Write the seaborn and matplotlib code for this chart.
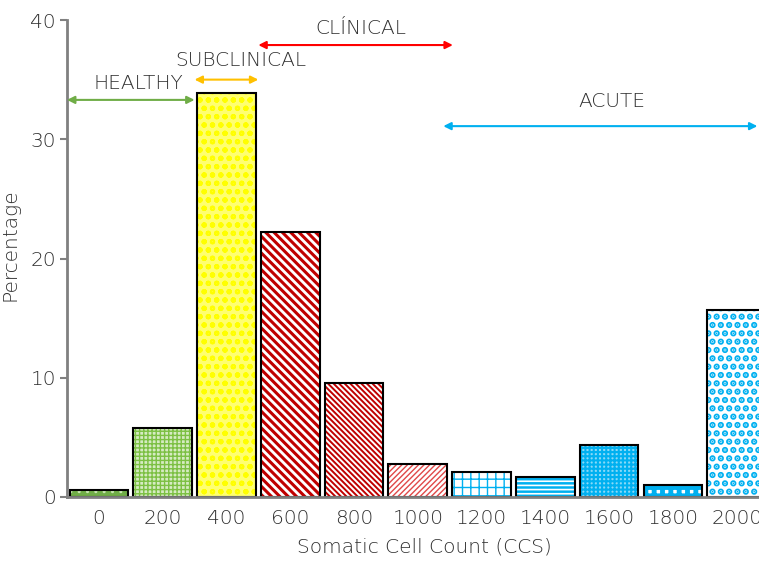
import matplotlib
matplotlib.use("Agg")
import matplotlib.pyplot as plt
import seaborn as sns

# Somatic cell count classes and share of samples (%)
scc = [0, 200, 400, 600, 800, 1000, 1200, 1400, 1600, 1800, 2000]
pct = [0.6, 5.8, 33.9, 22.2, 9.6, 2.8, 2.1, 1.7, 4.4, 1.0, 15.7]

# per-bar fill, hatch colour, hatch pattern, hatch width
faces = ["#70AD47", "#d6ebc2", "#ffff70", "white", "white", "white",
         "white", "#00B0F0", "#8ad9f7", "white", "white"]
hatch_cols = ["#c8e6b0", "#7cc043", "#ffff00", "#C00000", "#C00000", "#e04848",
              "#00B0F0", "white", "#00B0F0", "#00B0F0", "#00B0F0"]
hatches = ["..", "++++", "oo", "\\\\\\\\", "\\\\\\\\\\\\", "//////",
           "++", "----", "++++", "++", ".."]
hatch_lw = [1.0, 1.0, 1.5, 2.2, 1.4, 1.0, 1.0, 1.2, 1.5, 3.5, 3.2]

# stage ranges drawn as double arrows
stages = ["HEALTHY", "SUBCLINICAL", "CLÍNICAL", "ACUTE"]
stage_start = [-100, 300, 500, 1080]
stage_end = [300, 500, 1110, 2065]
stage_y = [33.3, 35.0, 37.9, 31.1]
stage_text_x = [125, 444, 820, 1610]
stage_text_y = [34.7, 36.6, 39.3, 33.2]
stage_colors = ["#70AD47", "#FFC000", "#FF0000", "#00B0F0"]

sns.set_style("white")
plt.rcParams["font.family"] = ["DejaVu Sans"]
text_col = "#303030"
fs = 14.5

fig = plt.figure(figsize=(7.59, 5.62), dpi=100)
ax = fig.add_axes([67 / 759, 65 / 562, 1 - 67 / 759, 477 / 562])

sns.barplot(x=scc, y=pct, native_scale=True, width=0.92, errorbar=None, ax=ax)
for i, p in enumerate(ax.patches):
    p.set_facecolor(faces[i])
    p.set_edgecolor(hatch_cols[i])
    p.set_hatch(hatches[i])
    p.set_linewidth(0)
    if hasattr(p, "set_hatch_linewidth"):
        p.set_hatch_linewidth(hatch_lw[i])

# black outlines on top
sns.barplot(x=scc, y=pct, native_scale=True, width=0.92, errorbar=None,
            fill=False, color="black", linewidth=1.5, ax=ax)

for name, x0, x1, y, tx, ty, c in zip(stages, stage_start, stage_end, stage_y,
                                      stage_text_x, stage_text_y, stage_colors):
    ax.annotate("", xy=(x1, y), xytext=(x0, y),
                arrowprops=dict(arrowstyle="<|-|>", color=c, lw=1.5,
                                shrinkA=0, shrinkB=0, mutation_scale=11),
                annotation_clip=False)
    ax.text(tx, ty, name, ha="center", va="center", fontsize=fs,
            color=text_col, fontweight="light")

ax.set_xlim(-100, 2070)
ax.set_ylim(0, 40)
ax.set_xticks(scc)
ax.set_xticklabels([str(v) for v in scc])
ax.set_yticks([0, 10, 20, 30, 40])
ax.tick_params(axis="x", length=0, pad=9, labelsize=fs, labelcolor=text_col)
ax.tick_params(axis="y", length=5, width=1.5, color="#808080", pad=3,
               labelsize=fs, labelcolor=text_col, left=True)
ax.set_xlabel("Somatic Cell Count (CCS)", fontsize=fs, color=text_col,
              fontweight="light")
ax.xaxis.set_label_coords(0.517, -0.085)
ax.set_ylabel("Percentage", fontsize=fs, color=text_col, fontweight="light")
ax.yaxis.set_label_coords(-0.068, 0.53)
for lab in ax.get_xticklabels() + ax.get_yticklabels():
    lab.set_fontweight("light")

sns.despine(ax=ax)
for s in ["left", "bottom"]:
    ax.spines[s].set_color("#808080")
    ax.spines[s].set_linewidth(2)

fig.savefig("out.png", dpi=100)
